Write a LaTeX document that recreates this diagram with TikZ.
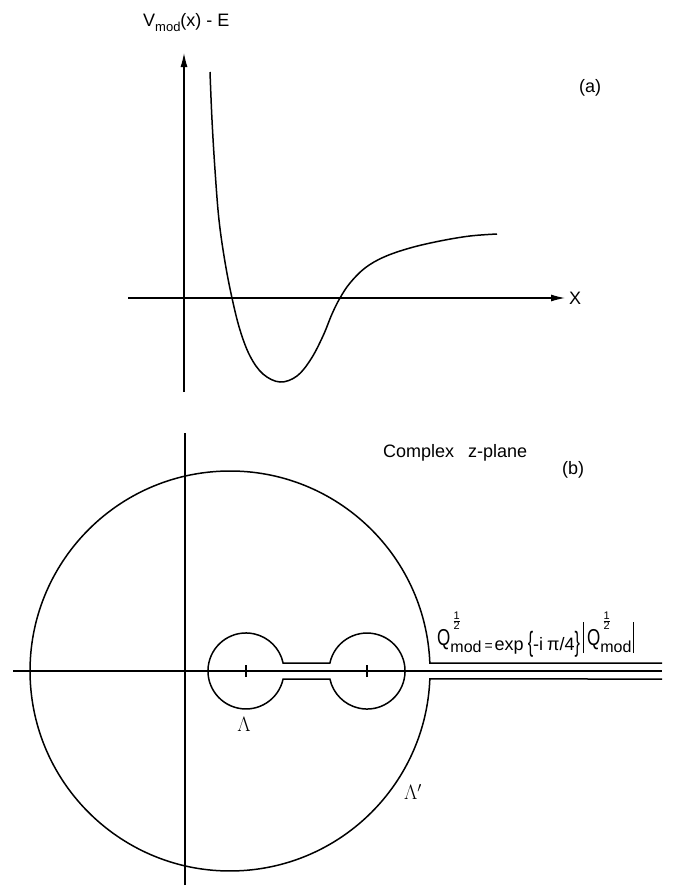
\documentclass[tikz,border=0pt]{standalone}
\usepackage{fontspec}
\usepackage{graphicx}
\setmainfont{Liberation Sans}
\usetikzlibrary{arrows.meta}
\newcommand{\bigQ}{\raisebox{5pt}{\scalebox{0.85}[1.15]{\fontsize{20}{20}\selectfont Q}}}
\newcommand{\halfmod}{\rlap{\hspace{2pt}\raisebox{26pt}{\smash{\fontsize{11}{11}\selectfont$\frac{\mbox{1}}{\mbox{2}}$}}}\raisebox{-2pt}{\fontsize{16}{16}\selectfont mod}}
\newcommand{\tallbrace}[1]{\raisebox{-1pt}{\scalebox{0.9}[1.55]{#1}}}
\newcommand{\tallbar}{\raisebox{-3pt}{\rule{1.2pt}{31pt}}}
\begin{document}
\begin{tikzpicture}[x=1pt,y=-1pt,
  axis/.style={line width=1.1pt},
  curve/.style={line width=1.5pt},
  lbl/.style={font=\fontsize{18}{20}\selectfont, inner sep=0pt},
  tip/.style={-{Latex[length=14pt,width=7pt]}}]
\useasboundingbox (0,0) rectangle (675,886);
% ---------- panel (a) ----------
\coordinate (ya0) at (184,392);
\coordinate (ya1) at (184,53);
\draw[axis,tip] (ya0) -- (ya1);
\coordinate (xa0) at (128,298);
\coordinate (xa1) at (565,298);
\draw[axis,tip] (xa0) -- (xa1);
\node[lbl,anchor=west] (xl) at (569,298) {X};
\node[lbl,anchor=base west] (vl) at (143,27) {V\raisebox{-5pt}{\fontsize{13}{13}\selectfont mod}(x) - E};
\node[lbl] (la) at (590,88) {(a)};
\draw[curve] plot[smooth, tension=0.6] coordinates {(210,72) (212,120) (215,170) (219,220) (225,262) (232,298) (240,330) (250,356) (263,374) (280,382) (297,376) (311,359) (323,336) (332,314) (340,298) (350,283) (365,268) (384,257) (410,248) (440,241) (470,236) (497,234)};
% ---------- panel (b) ----------
\coordinate (yb0) at (185,885);
\coordinate (yb1) at (185,433);
\draw[axis] (yb0) -- (yb1);
\coordinate (xb0) at (13,671);
\coordinate (xb1) at (662,671);
\draw[axis] (xb0) -- (xb1);
\node[lbl,anchor=west] (cz) at (383,453) {Complex\hspace{14pt}z-plane};
\node[lbl] (lb) at (573,470) {(b)};
% big contour
\coordinate (bu) at (662,663);
\coordinate (bl) at (662,679);
\draw[curve] (bu) -- (429.84,663) arc[start angle=-2.29, end angle=-357.71, radius=200] -- (bl);
% small contour
\draw[curve] (283.1,663) -- (329.9,663) arc[start angle=-167.8, end angle=167.8, radius=38] -- (283.1,679) arc[start angle=12.2, end angle=347.8, radius=38] -- cycle;
% branch cut and ticks
\coordinate (p1) at (246,671);
\coordinate (p2) at (367,671);
\draw[line width=2.6pt] (p1) -- (p2);
\draw[axis] ([yshift=-6pt]p1) -- ([yshift=6pt]p1);
\draw[axis] ([yshift=-6pt]p2) -- ([yshift=6pt]p2);
\node[lbl,font=\fontsize{22}{22}\selectfont] (lam) at (244,724) {$\Lambda$};
\node[lbl,font=\fontsize{22}{22}\selectfont] (lamp) at (413,792) {$\Lambda'$};
\node[lbl,anchor=base west] (frm) at (437,650) {\bigQ\halfmod\hspace{3pt}{\fontsize{14}{14}\selectfont =}\hspace{2pt}exp\hspace{4pt}\tallbrace{\{}-i\hspace{4pt}π/4\tallbrace{\}}\hspace{3pt}\tallbar\hspace{3pt}\bigQ\halfmod\hspace{1pt}\tallbar};
\end{tikzpicture}
\end{document}
